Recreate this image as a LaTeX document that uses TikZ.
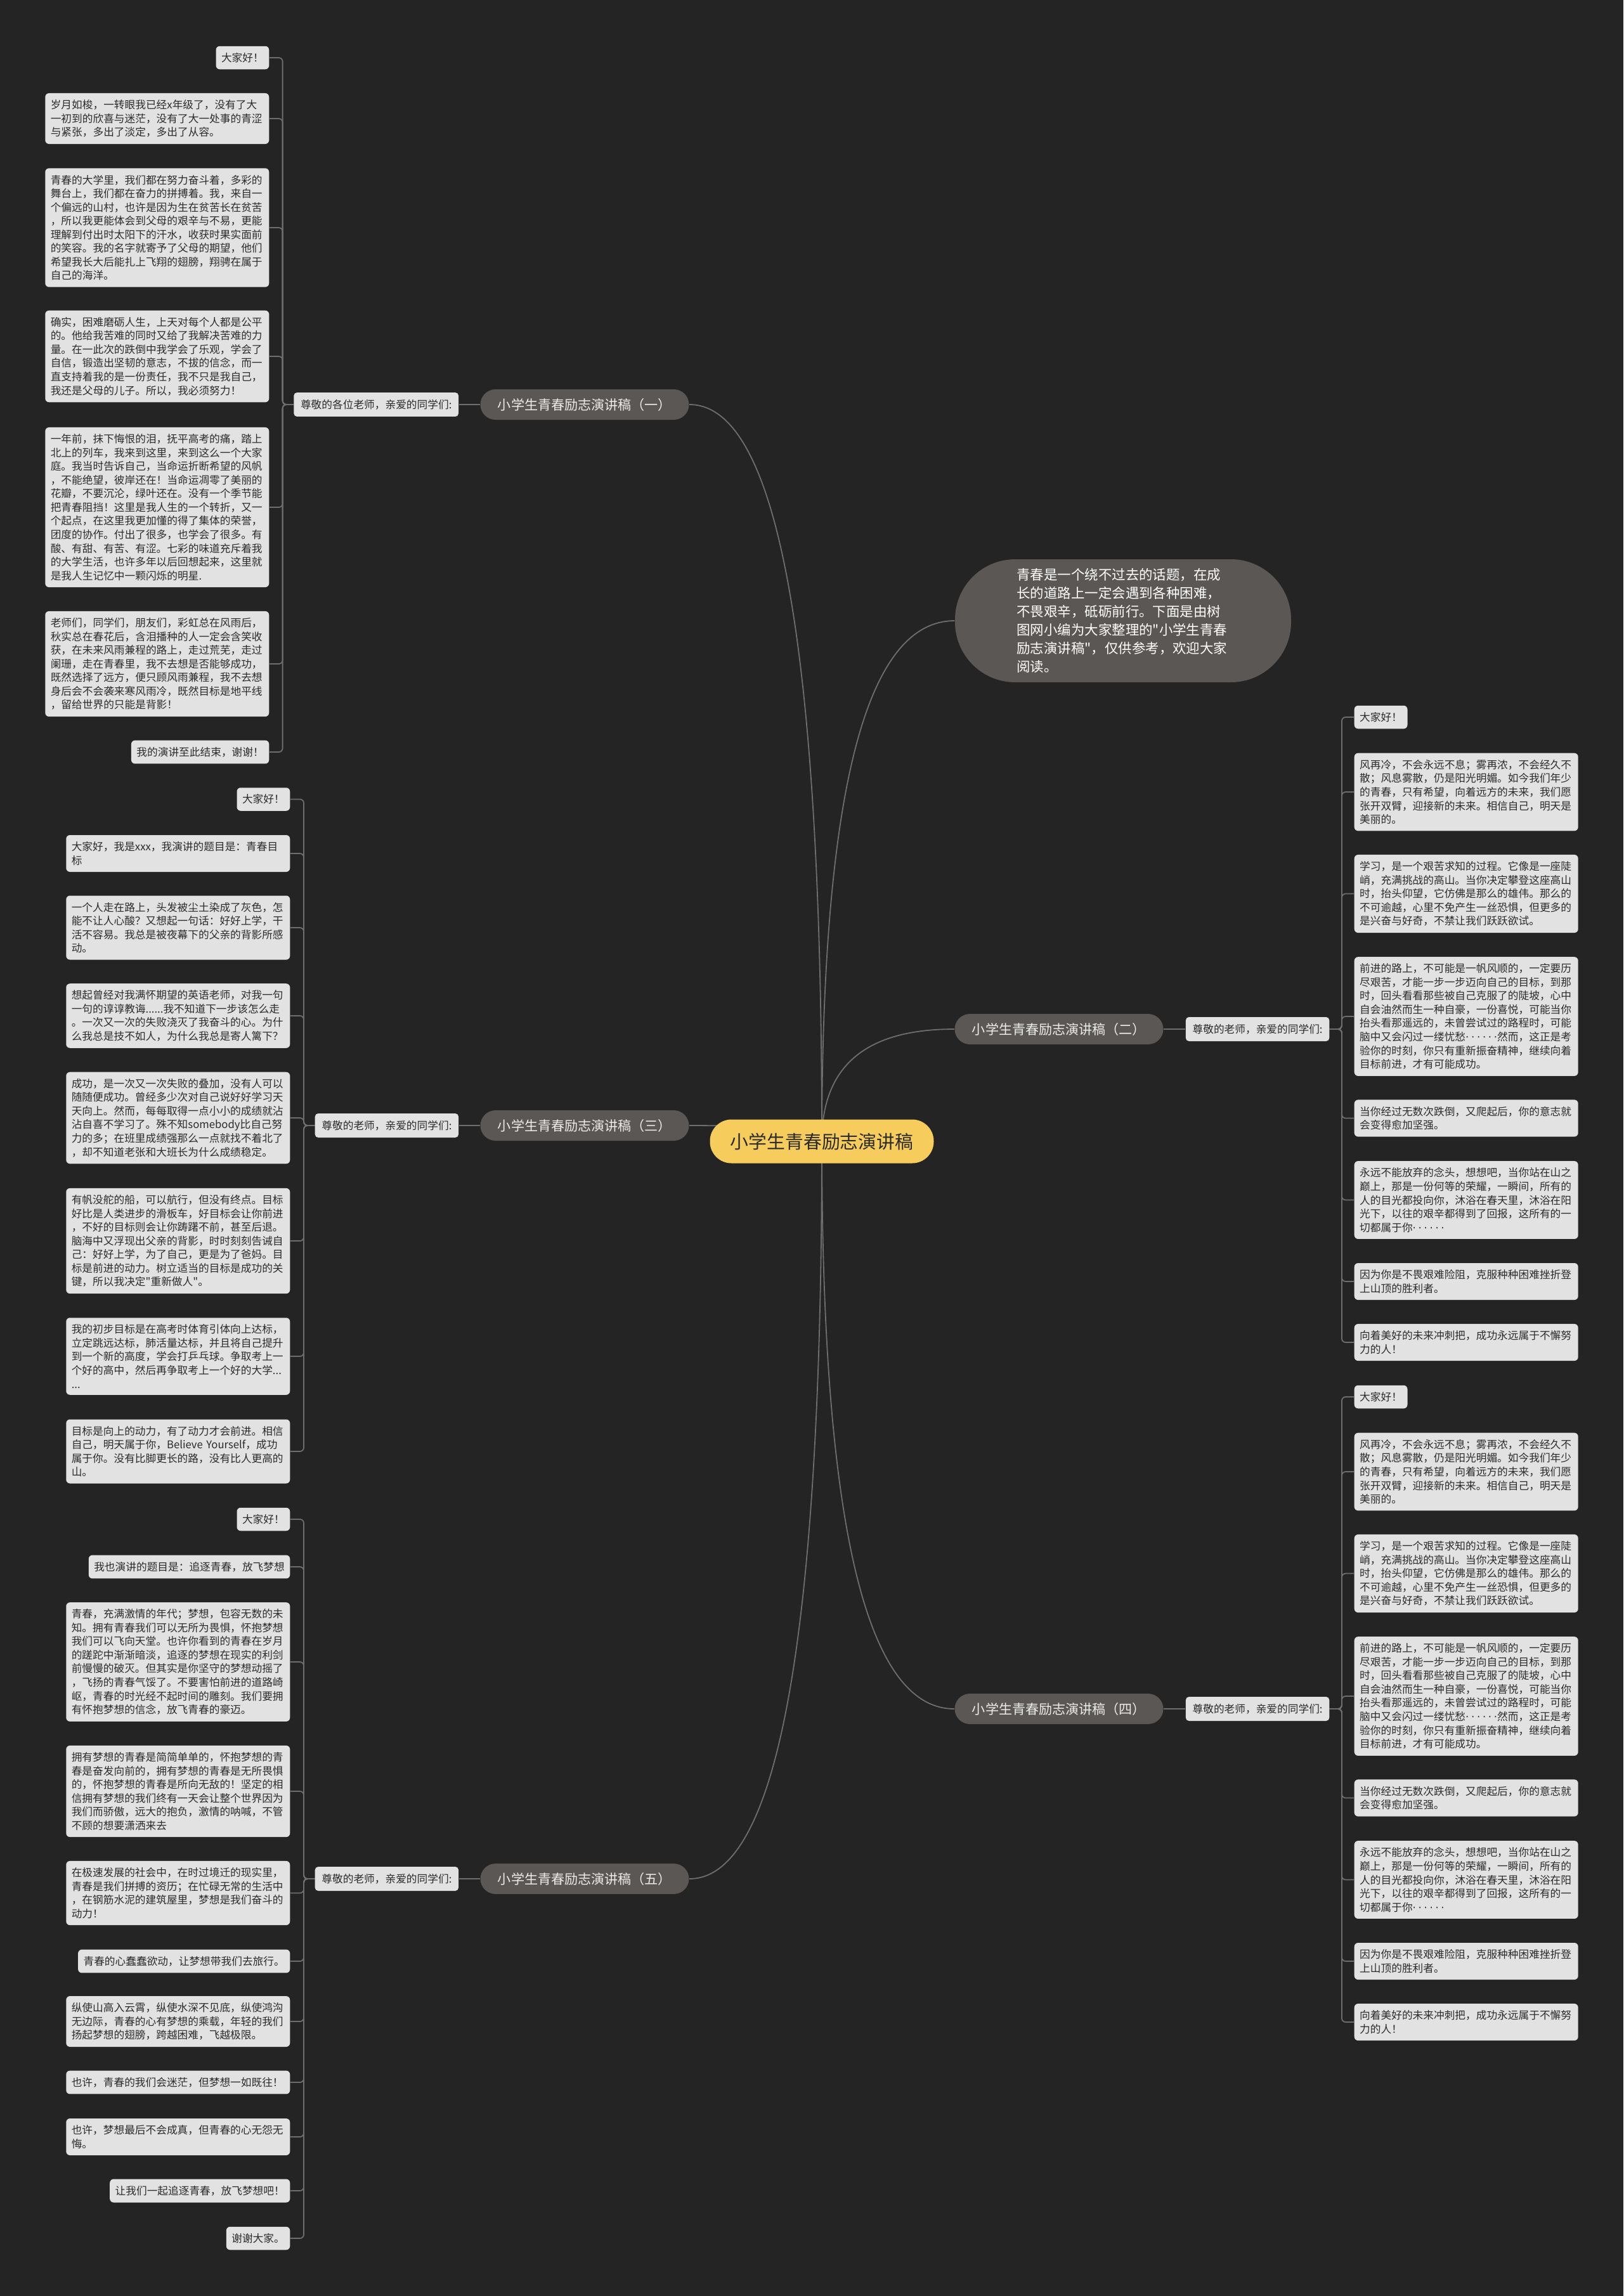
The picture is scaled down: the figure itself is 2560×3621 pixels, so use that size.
\documentclass[tikz,border=0pt]{standalone}
\usepackage{fontspec}
\setmainfont{Noto Sans CJK SC}[Ligatures=TeXOff]
\newfontfamily\dotfont{DejaVu Sans}
\usetikzlibrary{positioning, calc}

\definecolor{bgdark}{HTML}{242424}
\definecolor{rootyellow}{HTML}{F6CC5D}
\definecolor{topicgray}{HTML}{5B5754}
\definecolor{leafgray}{HTML}{E2E2E2}
\definecolor{inkdark}{HTML}{2B2B2B}
\definecolor{wire}{HTML}{6E6E6E}

\newcommand{\leaffont}{\fontsize{4.75pt}{6.13pt}\selectfont}
\newcommand{\topicfont}{\fontsize{6pt}{7pt}\selectfont}
\newcommand{\blurbfont}{\fontsize{6.1pt}{8.25pt}\selectfont}
\newcommand{\rootfont}{\fontsize{8.2pt}{10pt}\selectfont}
\newcommand{\dotrow}{\makebox[3em][s]{\dotfont·\hfil·\hfil·\hfil·\hfil·\hfil·}}

\pgfdeclarelayer{back}
\pgfsetlayers{back,main}

\tikzset{
  mainnode/.style={fill=rootyellow, text=inkdark, rounded corners=3.4mm, minimum width=35.3mm, minimum height=6.9mm, font=\rootfont},
  topicnode/.style={fill=topicgray, text=white!92!black, rounded corners=2.4mm, minimum width=32.9mm, minimum height=4.8mm, font=\topicfont},
  blurbnode/.style={fill=topicgray, text=white, rounded corners=9.5mm, minimum width=53mm, minimum height=19.4mm, text width=33.5mm, align=left, font=\blurbfont},
  greetnode/.style={fill=leafgray, text=inkdark, rounded corners=0.5mm, inner xsep=1.07mm, inner ysep=1.1mm, font=\leaffont},
  leafnode/.style={fill=leafgray, text=inkdark, rounded corners=0.6mm, inner xsep=0.85mm, inner ysep=1.05mm, font=\leaffont},
  paranode/.style={leafnode, text width=33.6mm, align=left},
  limb/.style={wire, line width=0.18mm},
  twig/.style={wire, line width=0.18mm, rounded corners=0.6mm}
}

% curved link from the centre topic to a branch
\newcommand{\limb}[2]{\draw[limb] (#1) .. controls ($(#1)!0.67!(#1 |- #2)$) and ($(#2)!0.67!(#1 |- #2)$) .. (#2);}

% the leaves of speeches two and four are the same
\newcommand{\hillleaves}[1]{
  \node[leafnode, anchor=west] (#1a) at (2135,1131) {大家好！};
  \node[paranode, anchor=west] (#1b) at (2135,1249) {风再冷，不会永远不息；雾再浓，不会经久不\\散；风息雾散，仍是阳光明媚。如今我们年少\\的青春，只有希望，向着远方的未来，我们愿\\张开双臂，迎接新的未来。相信自己，明天是\\美丽的。};
  \node[paranode, anchor=west] (#1c) at (2135,1409.5) {学习，是一个艰苦求知的过程。它像是一座陡\\峭，充满挑战的高山。当你决定攀登这座高山\\时，抬头仰望，它仿佛是那么的雄伟。那么的\\不可逾越，心里不免产生一丝恐惧，但更多的\\是兴奋与好奇，不禁让我们跃跃欲试。};
  \node[paranode, anchor=west] (#1d) at (2135,1603) {前进的路上，不可能是一帆风顺的，一定要历\\尽艰苦，才能一步一步迈向自己的目标，到那\\时，回头看看那些被自己克服了的陡坡，心中\\自会油然而生一种自豪，一份喜悦，可能当你\\抬头看那遥远的，未曾尝试过的路程时，可能\\脑中又会闪过一缕忧愁\dotrow 然而，这正是考\\验你的时刻，你只有重新振奋精神，继续向着\\目标前进，才有可能成功。};
  \node[paranode, anchor=west] (#1e) at (2135,1763.5) {当你经过无数次跌倒，又爬起后，你的意志就\\会变得愈加坚强。};
  \node[paranode, anchor=west] (#1f) at (2135,1892.5) {永远不能放弃的念头，想想吧，当你站在山之\\巅上，那是一份何等的荣耀，一瞬间，所有的\\人的目光都投向你，沐浴在春天里，沐浴在阳\\光下，以往的艰辛都得到了回报，这所有的一\\切都属于你\dotrow};
  \node[paranode, anchor=west] (#1g) at (2135,2021) {因为你是不畏艰难险阻，克服种种困难挫折登\\上山顶的胜利者。};
  \node[paranode, anchor=west] (#1h) at (2135,2117) {向着美好的未来冲刺把，成功永远属于不懈努\\力的人！};
}

\begin{document}
\begin{tikzpicture}[x=0.1mm, y=-0.1mm]
\useasboundingbox (0,0) rectangle (2560,3621);

% centre and branches
\node[mainnode] (root) at (1296,1800) {小学生青春励志演讲稿};
\node[blurbnode] (intro) at (1771,979) {青春是一个绕不过去的话题，在成\\长的道路上一定会遇到各种困难，\\不畏艰辛，砥砺前行。下面是由树\\图网小编为大家整理的"小学生青春\\励志演讲稿"，仅供参考，欢迎大家\\阅读。};
\node[topicnode] (b1) at (922,638) {小学生青春励志演讲稿（一）};
\node[topicnode] (b2) at (1670,1623) {小学生青春励志演讲稿（二）};
\node[topicnode] (b3) at (922,1775) {小学生青春励志演讲稿（三）};
\node[topicnode] (b4) at (1670,2695) {小学生青春励志演讲稿（四）};
\node[topicnode] (b5) at (922,2963) {小学生青春励志演讲稿（五）};

\node[greetnode, left=3.3mm of b1] (c1) {尊敬的各位老师，亲爱的同学们:};
\node[greetnode, right=3.4mm of b2] (c2) {尊敬的老师，亲爱的同学们:};
\node[greetnode, left=3.3mm of b3] (c3) {尊敬的老师，亲爱的同学们:};
\node[greetnode, right=3.4mm of b4] (c4) {尊敬的老师，亲爱的同学们:};
\node[greetnode, left=3.3mm of b5] (c5) {尊敬的老师，亲爱的同学们:};

% speech one
\node[leafnode, anchor=east] (l1a) at (425,91) {大家好！};
\node[paranode, anchor=east] (l1b) at (425,187) {岁月如梭，一转眼我已经x年级了，没有了大\\一初到的欣喜与迷茫，没有了大一处事的青涩\\与紧张，多出了淡定，多出了从容。};
\node[paranode, anchor=east] (l1c) at (425,359) {青春的大学里，我们都在努力奋斗着，多彩的\\舞台上，我们都在奋力的拼搏着。我，来自一\\个偏远的山村，也许是因为生在贫苦长在贫苦\\，所以我更能体会到父母的艰辛与不易，更能\\理解到付出时太阳下的汗水，收获时果实面前\\的笑容。我的名字就寄予了父母的期望，他们\\希望我长大后能扎上飞翔的翅膀，翔骋在属于\\自己的海洋。};
\node[paranode, anchor=east] (l1d) at (425,562) {确实，困难磨砺人生，上天对每个人都是公平\\的。他给我苦难的同时又给了我解决苦难的力\\量。在一此次的跌倒中我学会了乐观，学会了\\自信，锻造出坚韧的意志，不拔的信念，而一\\直支持着我的是一份责任，我不只是我自己，\\我还是父母的儿子。所以，我必须努力！};
\node[paranode, anchor=east] (l1e) at (425,800) {一年前，抹下悔恨的泪，抚平高考的痛，踏上\\北上的列车，我来到这里，来到这么一个大家\\庭。我当时告诉自己，当命运折断希望的风帆\\，不能绝望，彼岸还在！当命运凋零了美丽的\\花瓣，不要沉沦，绿叶还在。没有一个季节能\\把青春阻挡！这里是我人生的一个转折，又一\\个起点，在这里我更加懂的得了集体的荣誉，\\团度的协作。付出了很多，也学会了很多。有\\酸、有甜、有苦、有涩。七彩的味道充斥着我\\的大学生活，也许多年以后回想起来，这里就\\是我人生记忆中一颗闪烁的明星.};
\node[paranode, anchor=east] (l1f) at (425,1047) {老师们，同学们，朋友们，彩虹总在风雨后，\\秋实总在春花后，含泪播种的人一定会含笑收\\获，在未来风雨兼程的路上，走过荒芜，走过\\阑珊，走在青春里，我不去想是否能够成功，\\既然选择了远方，便只顾风雨兼程，我不去想\\身后会不会袭来寒风雨冷，既然目标是地平线\\，留给世界的只能是背影！};
\node[leafnode, anchor=east] (l1g) at (425,1186) {我的演讲至此结束，谢谢！};

% speech three
\node[leafnode, anchor=east] (l3a) at (458,1260.5) {大家好！};
\node[paranode, anchor=east] (l3b) at (458,1346) {大家好，我是xxx，我演讲的题目是：青春目\\标};
\node[paranode, anchor=east] (l3c) at (458,1463) {一个人走在路上，头发被尘土染成了灰色，怎\\能不让人心酸？又想起一句话：好好上学，干\\活不容易。我总是被夜幕下的父亲的背影所感\\动。};
\node[paranode, anchor=east] (l3d) at (458,1602) {想起曾经对我满怀期望的英语老师，对我一句\\一句的谆谆教诲......我不知道下一步该怎么走\\。一次又一次的失败浇灭了我奋斗的心。为什\\么我总是技不如人，为什么我总是寄人篱下？};
\node[paranode, anchor=east] (l3e) at (458,1763) {成功，是一次又一次失败的叠加，没有人可以\\随随便成功。曾经多少次对自己说好好学习天\\天向上。然而，每每取得一点小小的成绩就沾\\沾自喜不学习了。殊不知somebody比自己努\\力的多；在班里成绩强那么一点就找不着北了\\，却不知道老张和大班长为什么成绩稳定。};
\node[paranode, anchor=east] (l3f) at (458,1957) {有帆没舵的船，可以航行，但没有终点。目标\\好比是人类进步的滑板车，好目标会让你前进\\，不好的目标则会让你踌躇不前，甚至后退。\\脑海中又浮现出父亲的背影，时时刻刻告诫自\\己：好好上学，为了自己，更是为了爸妈。目\\标是前进的动力。树立适当的目标是成功的关\\键，所以我决定"重新做人"。};
\node[paranode, anchor=east] (l3g) at (458,2139) {我的初步目标是在高考时体育引体向上达标，\\立定跳远达标，肺活量达标，并且将自己提升\\到一个新的高度，学会打乒乓球。争取考上一\\个好的高中，然后再争取考上一个好的大学...\\...};
\node[paranode, anchor=east] (l3h) at (458,2289) {目标是向上的动力，有了动力才会前进。相信\\自己，明天属于你，Believe~Yourself，成功\\属于你。没有比脚更长的路，没有比人更高的\\山。};

% speech five
\node[leafnode, anchor=east] (l5a) at (458,2396) {大家好！};
\node[leafnode, anchor=east] (l5b) at (458,2471) {我也演讲的题目是：追逐青春，放飞梦想};
\node[paranode, anchor=east] (l5c) at (458,2621) {青春，充满激情的年代；梦想，包容无数的未\\知。拥有青春我们可以无所为畏惧，怀抱梦想\\我们可以飞向天堂。也许你看到的青春在岁月\\的蹉跎中渐渐暗淡，追逐的梦想在现实的利剑\\前慢慢的破灭。但其实是你坚守的梦想动摇了\\，飞扬的青春气馁了。不要害怕前进的道路崎\\岖，青春的时光经不起时间的雕刻。我们要拥\\有怀抱梦想的信念，放飞青春的豪迈。};
\node[paranode, anchor=east] (l5d) at (458,2825) {拥有梦想的青春是简简单单的，怀抱梦想的青\\春是奋发向前的，拥有梦想的青春是无所畏惧\\的，怀抱梦想的青春是所向无敌的！坚定的相\\信拥有梦想的我们终有一天会让整个世界因为\\我们而骄傲，远大的抱负，激情的呐喊，不管\\不顾的想要潇洒来去};
\node[paranode, anchor=east] (l5e) at (458,2985.5) {在极速发展的社会中，在时过境迁的现实里，\\青春是我们拼搏的资历；在忙碌无常的生活中\\，在钢筋水泥的建筑屋里，梦想是我们奋斗的\\动力！};
\node[leafnode, anchor=east] (l5f) at (458,3093) {青春的心蠢蠢欲动，让梦想带我们去旅行。};
\node[paranode, anchor=east] (l5g) at (458,3188) {纵使山高入云霄，纵使水深不见底，纵使鸿沟\\无边际，青春的心有梦想的乘载，年轻的我们\\扬起梦想的翅膀，跨越困难，飞越极限。};
\node[paranode, anchor=east] (l5h) at (458,3284) {也许，青春的我们会迷茫，但梦想一如既往！};
\node[paranode, anchor=east] (l5i) at (458,3370) {也许，梦想最后不会成真，但青春的心无怨无\\悔。};
\node[leafnode, anchor=east] (l5j) at (458,3455) {让我们一起追逐青春，放飞梦想吧！};
\node[leafnode, anchor=east] (l5k) at (458,3530) {谢谢大家。};

% speeches two and four
\hillleaves{l2}
\begin{scope}[shift={(0,1072)}]
\hillleaves{l4}
\end{scope}

\begin{pgfonlayer}{back}
\fill[bgdark] (0,0) rectangle (2560,3621);
\limb{root.center}{intro.west}
\limb{root.center}{b1.east}
\limb{root.center}{b2.west}
\limb{root.center}{b3.east}
\limb{root.center}{b4.west}
\limb{root.center}{b5.east}
\draw[limb] (b1.west) -- (c1.east);
\draw[limb] (b3.west) -- (c3.east);
\draw[limb] (b5.west) -- (c5.east);
\draw[limb] (b2.east) -- (c2.west);
\draw[limb] (b4.east) -- (c4.west);
\foreach \n in {a,...,g} \draw[twig] (c1.west) -- ++(-17,0) |- (l1\n.east);
\foreach \n in {a,...,h} \draw[twig] (c3.west) -- ++(-17,0) |- (l3\n.east);
\foreach \n in {a,...,k} \draw[twig] (c5.west) -- ++(-17,0) |- (l5\n.east);
\foreach \n in {a,...,h} \draw[twig] (c2.east) -- ++(19,0) |- (l2\n.west);
\foreach \n in {a,...,h} \draw[twig] (c4.east) -- ++(19,0) |- (l4\n.west);
\end{pgfonlayer}
\end{tikzpicture}
\end{document}
